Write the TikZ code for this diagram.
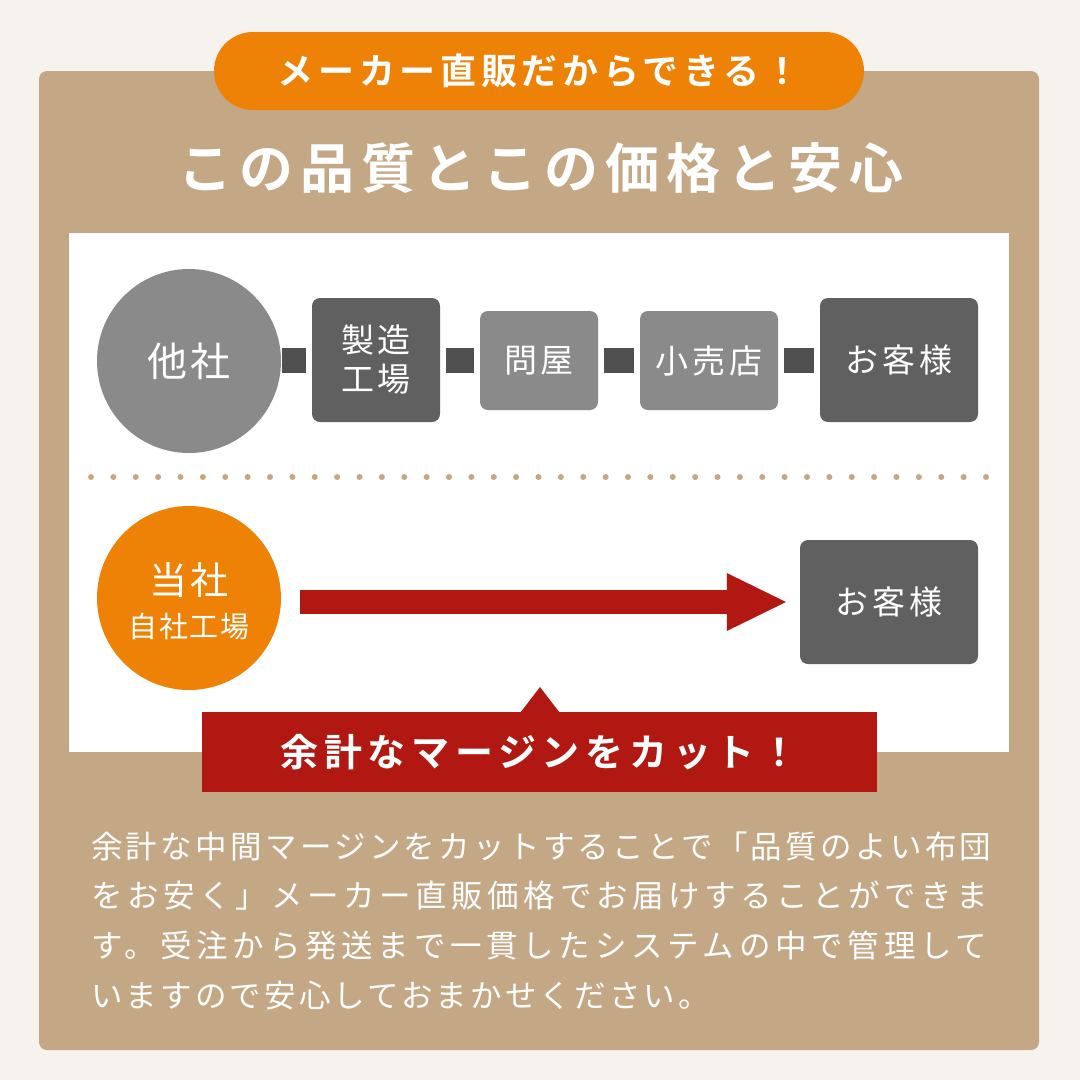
\documentclass[tikz,border=0pt]{standalone}
\usepackage{fontspec}
\newfontfamily\jp{Noto Sans CJK JP}
\newfontfamily\jpb{Noto Sans CJK JP Bold}
\usetikzlibrary{arrows.meta}
\definecolor{bgc}{HTML}{F6F3EE}
\definecolor{tan}{HTML}{C4A784}
\definecolor{orng}{HTML}{EE8207}
\definecolor{glight}{HTML}{8A8A8A}
\definecolor{gdark}{HTML}{606060}
\definecolor{gconn}{HTML}{505050}
\definecolor{redc}{HTML}{B21812}
\tikzset{
  gbox/.style={rounded corners=8pt, inner sep=0pt, align=center, text=white,
    font=\jp\fontsize{33}{39}\selectfont\addfontfeature{LetterSpace=12}},
  circ/.style={circle, inner sep=0pt, minimum size=184pt, align=center, text=white},
  conn/.style={draw=gconn, line width=25pt},
  ptext/.style={anchor=west, inner sep=0pt, text=white}
}
\newcommand{\pfont}[1]{\jp\fontsize{31.5}{31.5}\selectfont\addfontfeature{LetterSpace=#1}}
\begin{document}
\begin{tikzpicture}[x=1pt,y=-1pt]
\useasboundingbox (0,0) rectangle (1080,1080);
\fill[bgc] (0,0) rectangle (1080,1080);
% tan panel
\fill[tan, rounded corners=8pt] (39,71) rectangle (1039,1050);
% badge
\node[fill=orng, rounded corners=39pt, minimum width=650pt, minimum height=78pt, inner sep=0pt, text=white,
  font=\jpb\fontsize{36}{36}\selectfont\addfontfeature{LetterSpace=13}] (badge) at (539,71) {メーカー直販だからできる！};
% title
\node[text=white, inner sep=0pt, font=\jpb\fontsize{54}{54}\selectfont\addfontfeature{LetterSpace=13}] (title) at (541,168) {この品質とこの価格と安心};
% white panel
\fill[white] (69,233) rectangle (1009,752);
% first row
\node[circ, fill=glight, font=\jp\fontsize{40}{40}\selectfont\addfontfeature{LetterSpace=8}] (other) at (189,361) {他社};
\node[gbox, fill=gdark, minimum width=128pt, minimum height=124pt] (fac) at (376,360) {製造\\工場};
\node[gbox, fill=glight, minimum width=118pt, minimum height=99pt] (whole) at (539,360.5) {問屋};
\node[gbox, fill=glight, minimum width=138pt, minimum height=99pt] (retail) at (709,360.5) {小売店};
\node[gbox, fill=gdark, minimum width=158pt, minimum height=124pt] (cust1) at (899,360) {お客様};
\draw[conn, shorten <=1pt, shorten >=6pt] (other.east |- 0,360.5) -- (fac.west |- 0,360.5);
\draw[conn, shorten <=6pt, shorten >=6pt] (fac.east |- 0,360.5) -- (whole.west |- 0,360.5);
\draw[conn, shorten <=6pt, shorten >=6pt] (whole.east |- 0,360.5) -- (retail.west |- 0,360.5);
\draw[conn, shorten <=6pt, shorten >=6pt] (retail.east |- 0,360.5) -- (cust1.west |- 0,360.5);
% dotted line
\foreach \i in {0,...,40} {
  \fill[tan] (91+\i*22.375,477) circle (3pt);
}
% second row
\node[circ, fill=orng] (us) at (189,598) {};
\node[text=white, inner sep=0pt, font=\jp\fontsize{38}{38}\selectfont\addfontfeature{LetterSpace=8}] (usA) at (189,580) {当社};
\node[text=white, inner sep=0pt, font=\jp\fontsize{29}{29}\selectfont\addfontfeature{LetterSpace=5}] (usB) at (189,626) {自社工場};
\node[gbox, fill=gdark, minimum width=178pt, minimum height=124pt] (cust2) at (889,602) {お客様};
\draw[redc, line width=24pt, shorten <=19pt, shorten >=12pt, -{Triangle[length=61pt, width=53pt]}]
  (us.east |- 0,602) -- (cust2.west |- 0,602);
% callout
\node[fill=redc, minimum width=675pt, minimum height=80pt, inner sep=0pt, text=white,
  font=\jpb\fontsize{38}{38}\selectfont\addfontfeature{LetterSpace=15}] (cut) at (539.5,752) {余計なマージンをカット！};
\fill[redc] ([xshift=-19pt]cut.north -| 540,0) -- (540,687) -- ([xshift=19pt]cut.north -| 540,0) -- cycle;
% paragraph
\node[ptext, font=\pfont{10.5}] (p1) at (91,846) {余計な中間マージンをカットすることで「品質のよい布団};
\node[ptext, font=\pfont{14.5}] (p2) at (91,896) {をお安く」メーカー直販価格でお届けすることができま};
\node[ptext, font=\pfont{15}] (p3) at (91,946) {す。受注から発送まで一貫したシステムの中で管理して};
\node[ptext, font=\pfont{10}] (p4) at (91,996) {いますので安心しておまかせください。};
\end{tikzpicture}
\end{document}
